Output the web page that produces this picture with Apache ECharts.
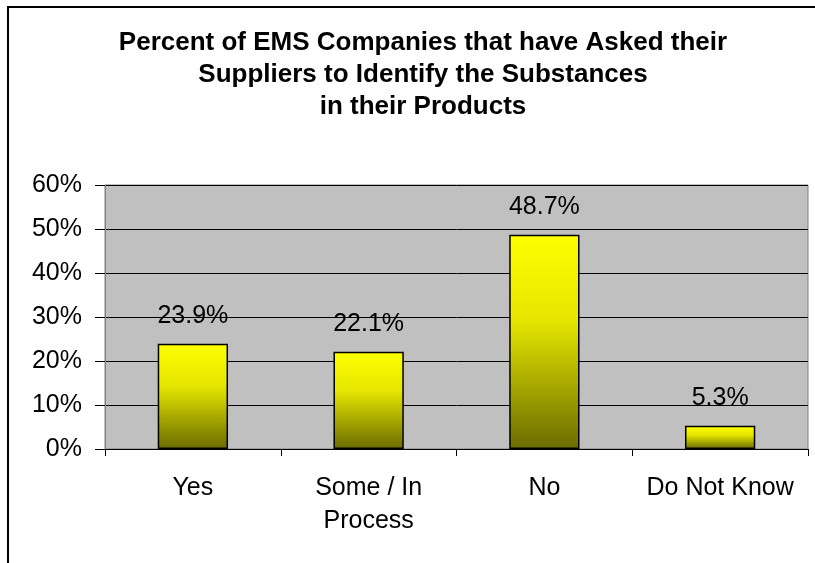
<!DOCTYPE html>
<html>
<head>
<meta charset="utf-8">
<script src="https://cdn.jsdelivr.net/npm/echarts@6/dist/echarts.min.js"></script>
<style>
  html, body { margin: 0; padding: 0; background: #fff; }
  #main { width: 815px; height: 563px; }
</style>
</head>
<body>
<div id="main"></div>
<script>
// chart data
const categories = ['Yes', 'Some / In\nProcess', 'No', 'Do Not Know']
const percentValues = [0.239, 0.221, 0.487, 0.053]
const yTicks = { min: 0, max: 0.6, interval: 0.1 }
const titleText = 'Percent of EMS Companies that have Asked their\nSuppliers to Identify the Substances\nin their Products'

const font = "'Liberation Sans', Arial, sans-serif"
const myChart = echarts.init(document.getElementById('main'))

const option = {
  backgroundColor: '#fff',
  animation: false,
  title: {
    text: titleText,
    left: 418,
    textAlign: 'center',
    top: 22,
    textStyle: {
      fontFamily: font,
      fontSize: 26,
      fontWeight: 'bold',
      color: '#000',
      lineHeight: 32
    }
  },
  // outer frame of the picture (left and top edges only show)
  graphic: [
    {
      type: 'polyline',
      shape: { points: [[8, 563], [8, 7], [815, 7]] },
      style: { stroke: '#000', lineWidth: 2, fill: null }
    }
  ],
  grid: {
    left: 105,
    right: 7,
    top: 185,
    bottom: 114,
    show: true,
    backgroundColor: '#c0c0c0',
    borderColor: '#808080',
    borderWidth: 1
  },
  xAxis: {
    type: 'category',
    data: categories,
    axisLine: { lineStyle: { color: '#000', width: 1 } },
    axisTick: { show: true, length: 7, lineStyle: { color: '#000' } },
    axisLabel: {
      fontFamily: font,
      fontSize: 25,
      color: '#000',
      margin: 23,
      lineHeight: 33,
      interval: 0
    }
  },
  yAxis: {
    type: 'value',
    min: yTicks.min,
    max: yTicks.max,
    interval: yTicks.interval,
    axisLine: { show: true, lineStyle: { color: '#808080' } },
    axisTick: { show: true, length: 10, lineStyle: { color: '#000' } },
    axisLabel: {
      fontFamily: font,
      fontSize: 25,
      color: '#000',
      margin: 23,
      formatter: v => Math.round(v * 100) + '%'
    },
    splitLine: { show: true, lineStyle: { color: '#000', width: 1 } }
  },
  series: [
    {
      type: 'bar',
      data: percentValues,
      barWidth: '40%',
      itemStyle: {
        color: new echarts.graphic.LinearGradient(0, 0, 0, 1, [
          { offset: 0, color: '#ffff00' },
          { offset: 0.4, color: '#e6e600' },
          { offset: 1, color: '#6b6b00' }
        ]),
        borderColor: '#000',
        borderWidth: 1.5
      },
      label: {
        show: true,
        position: 'top',
        distance: 15,
        fontFamily: font,
        fontSize: 25,
        color: '#000',
        formatter: p => (p.value * 100).toFixed(1) + '%'
      }
    }
  ]
}

myChart.setOption(option)
</script>
</body>
</html>
